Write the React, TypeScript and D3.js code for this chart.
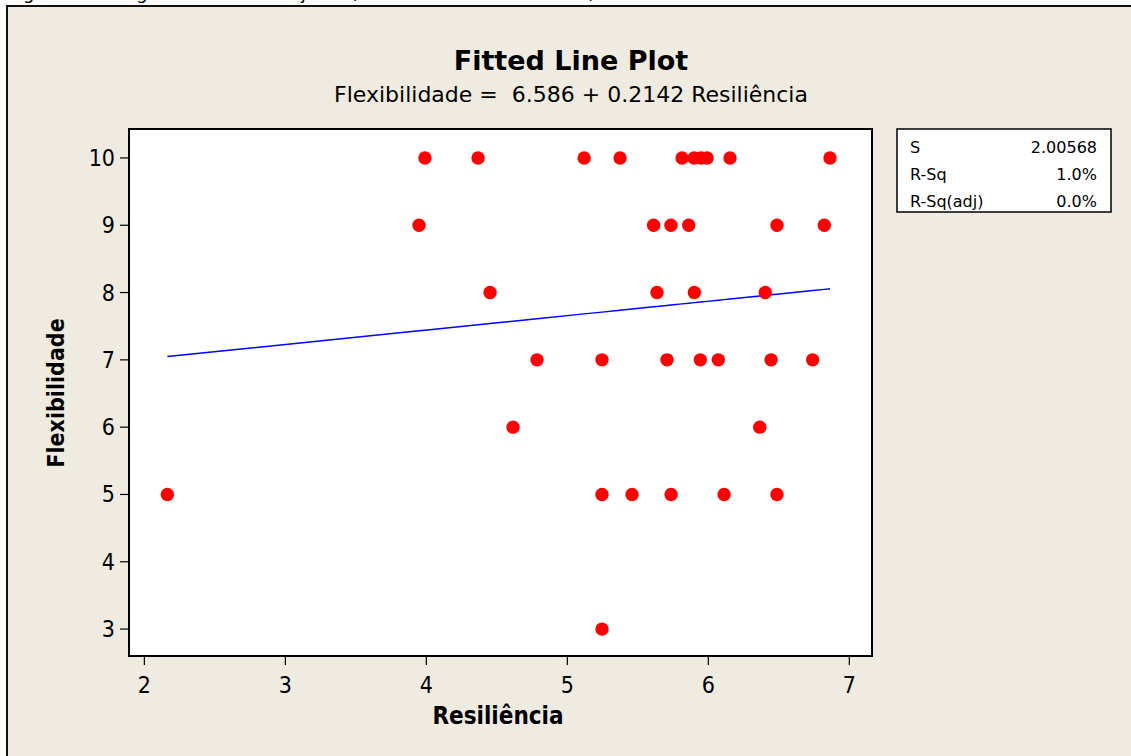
import React from "react";
import * as d3 from "d3";

const resiliencia: number[] = [
  3.99, 4.367, 5.119, 5.374, 5.814, 5.899, 5.948, 5.991, 6.154, 6.863,
  3.948, 5.612, 5.735, 5.861, 6.487, 6.823,
  4.452, 5.636, 5.901, 6.404,
  4.785, 5.246, 5.707, 5.943, 6.071, 6.445, 6.74,
  4.615, 6.365,
  2.163, 5.246, 5.459, 5.736, 6.112, 6.487,
  5.246,
];
const flexibilidade: number[] = [
  10, 10, 10, 10, 10, 10, 10, 10, 10, 10,
  9, 9, 9, 9, 9, 9,
  8, 8, 8, 8,
  7, 7, 7, 7, 7, 7, 7,
  6, 6,
  5, 5, 5, 5, 5, 5,
  3,
];
const intercept = 6.586;
const slope = 0.2142;
const xTicks = [2, 3, 4, 5, 6, 7];
const yTicks = [3, 4, 5, 6, 7, 8, 9, 10];
const statLabels = ["S", "R-Sq", "R-Sq(adj)"];
const statValues = ["2.00568", "1.0%", "0.0%"];

const W = 1131;
const H = 756;
const FONT = "'DejaVu Sans Condensed', 'DejaVu Sans', Tahoma, sans-serif";
const FONT_WIDE = "'DejaVu Sans', Tahoma, sans-serif";

export default function App() {
  const left = 129, right = 872, top = 129, bottom = 656;
  const x = d3.scaleLinear().domain([1.891, 7.161]).range([left, right]);
  const y = d3.scaleLinear().domain([2.6, 10.43]).range([bottom, top]);

  const sortedX = [...resiliencia].sort((a, b) => a - b);
  const line = d3
    .line<number>()
    .x((d) => x(d))
    .y((d) => y(intercept + slope * d));

  return (
    <svg
      width={W}
      height={H}
      style={{ position: "absolute", left: 0, top: 0, background: "#ffffff" }}
      fontFamily={FONT}
    >
      <text x={9} y={-1} fontSize={18} fontFamily={FONT_WIDE} fill="#000">
        Figura 12 – Regressão Linear – Ajuste (Flexibilidade x Resiliência)
      </text>
      <rect x={7} y={6} width={W + 10} height={H + 10} fill="#efebe1" stroke="#111" strokeWidth={2} />

      <text x={571} y={70} textAnchor="middle" fontSize={27} fontWeight="bold" fontFamily={FONT_WIDE}>
        Fitted Line Plot
      </text>
      <text x={571} y={102} textAnchor="middle" fontSize={22} fontFamily={FONT_WIDE} xmlSpace="preserve">
        Flexibilidade =  6.586 + 0.2142 Resiliência
      </text>

      <rect x={left} y={top} width={right - left} height={bottom - top} fill="#ffffff" stroke="#000" strokeWidth={2} />

      {xTicks.map((t) => (
        <g key={"xt" + t}>
          <line x1={x(t)} x2={x(t)} y1={bottom} y2={bottom + 9} stroke="#000" strokeWidth={1.2} />
          <text x={x(t)} y={bottom + 37} textAnchor="middle" fontSize={23}>
            {t}
          </text>
        </g>
      ))}
      {yTicks.map((t) => (
        <g key={"yt" + t}>
          <line x1={left - 9} x2={left} y1={y(t)} y2={y(t)} stroke="#000" strokeWidth={1.2} />
          <text x={left - 14} y={y(t) + 8} textAnchor="end" fontSize={23}>
            {t}
          </text>
        </g>
      ))}

      <text x={498} y={724} textAnchor="middle" fontSize={24} fontWeight="bold">
        Resiliência
      </text>
      <text
        transform={`translate(64, 393) rotate(-90)`}
        textAnchor="middle"
        fontSize={23}
        fontWeight="bold"
      >
        Flexibilidade
      </text>

      <path d={line(sortedX) || ""} fill="none" stroke="#0000ff" strokeWidth={1.4} />

      {resiliencia.map((r, i) => (
        <circle key={i} cx={x(r)} cy={y(flexibilidade[i])} r={6.7} fill="#ff0000" />
      ))}

      <rect x={897} y={129} width={214} height={83} fill="#ffffff" stroke="#000" strokeWidth={1.5} />
      {statLabels.map((s, i) => (
        <g key={s}>
          <text x={910} y={153 + i * 27} fontSize={16} fontFamily={FONT_WIDE}>
            {s}
          </text>
          <text x={1097} y={153 + i * 27} textAnchor="end" fontSize={16} fontFamily={FONT_WIDE}>
            {statValues[i]}
          </text>
        </g>
      ))}
    </svg>
  );
}
